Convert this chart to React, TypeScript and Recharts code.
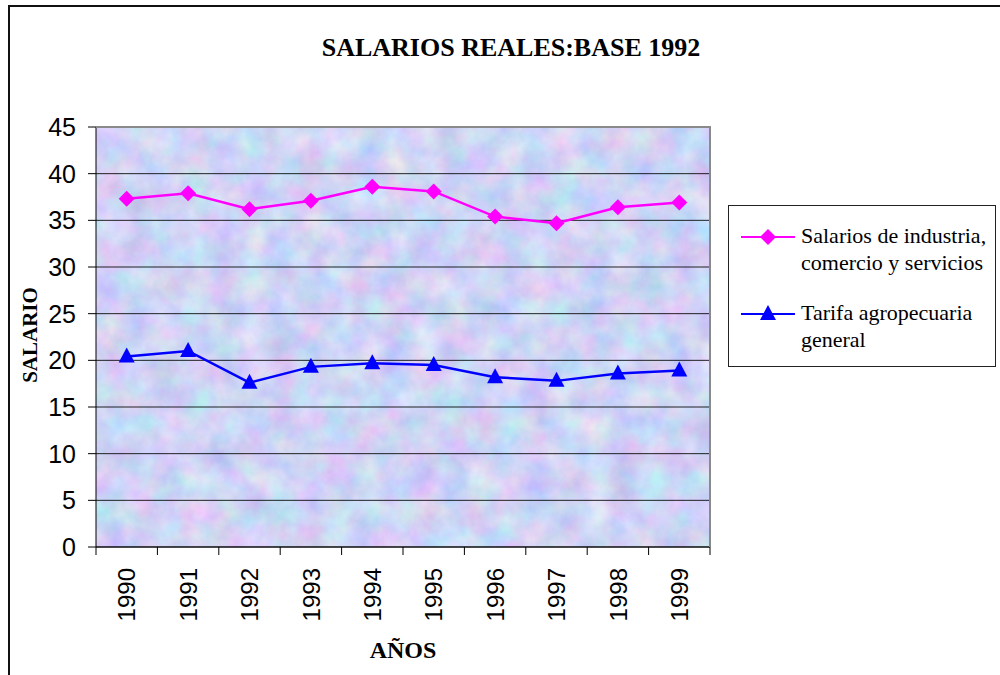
import React from 'react';
import { LineChart, Line, XAxis, YAxis, CartesianGrid } from 'recharts';

const years = ['1990', '1991', '1992', '1993', '1994', '1995', '1996', '1997', '1998', '1999'];
const salariosIndustria = [37.3, 37.9, 36.2, 37.1, 38.6, 38.1, 35.4, 34.7, 36.4, 36.9];
const tarifaAgro = [20.4, 21.0, 17.6, 19.3, 19.7, 19.5, 18.2, 17.8, 18.6, 18.9];
const yTicks = [0, 5, 10, 15, 20, 25, 30, 35, 40, 45];

const series = [
    { key: 'industria', name: ['Salarios de industria,', 'comercio y servicios'], color: '#ff00ff', shape: 'diamond' },
    { key: 'agro', name: ['Tarifa agropecuaria', 'general'], color: '#0000ff', shape: 'triangle' },
];

const data = years.map((year, i) => ({
    year,
    industria: salariosIndustria[i],
    agro: tarifaAgro[i],
}));

const serif = '"Liberation Serif", "DejaVu Serif", serif';
const sans = '"Liberation Sans", Arial, sans-serif';

const Marker = ({ cx, cy, shape, color }: any) => {
    if (cx == null || cy == null) return null;
    if (shape === 'diamond') {
        return <polygon points={`${cx},${cy - 8} ${cx + 8},${cy} ${cx},${cy + 8} ${cx - 8},${cy}`} fill={color} />;
    }
    return <polygon points={`${cx},${cy - 9} ${cx + 8},${cy + 6} ${cx - 8},${cy + 6}`} fill={color} />;
};

// year label rotated, plus Excel-style tick marks on the band edges
const YearTick = ({ x, y, payload, width, visibleTicksCount, index }: any) => {
    const half = payload.offset || width / visibleTicksCount / 2;
    const ty = y + 21;
    return (
        <g>
            <line x1={x - half} y1={y} x2={x - half} y2={y + 8} stroke="#000" />
            {index === visibleTicksCount - 1 && <line x1={x + half} y1={y} x2={x + half} y2={y + 8} stroke="#000" />}
            <text
                x={x}
                y={ty}
                transform={`rotate(-90, ${x}, ${ty})`}
                textAnchor="end"
                dy="0.36em"
                fontSize={24}
                fontFamily={sans}
                fill="#000"
            >
                {payload.value}
            </text>
        </g>
    );
};

export default function App() {
    return (
        <div style={{ position: 'absolute', left: 0, top: 0, width: 1000, height: 675, overflow: 'hidden', background: '#fff' }}>
            {/* outer frame, runs past the right and bottom edges */}
            <div style={{ position: 'absolute', left: 8, top: 5, width: 1100, height: 800, border: '2px solid #111', boxSizing: 'border-box' }} />

            <div style={{ position: 'absolute', left: 0, top: 33, width: 1022, textAlign: 'center', fontFamily: serif, fontWeight: 'bold', fontSize: 26 }}>
                SALARIOS REALES:BASE 1992
            </div>

            <LineChart
                width={1000}
                height={675}
                data={data}
                margin={{ top: 127, right: 290, left: 36, bottom: 68 }}
                style={{ position: 'absolute', left: 0, top: 0 }}
            >
                <defs>
                    <filter id="tex" x="0" y="0" width="100%" height="100%" colorInterpolationFilters="sRGB">
                        <feTurbulence type="fractalNoise" baseFrequency="0.035" numOctaves={4} seed={7} />
                        <feColorMatrix
                            type="matrix"
                            values="0.32 0 0 0 0.65  0 0.26 0 0 0.70  0 0 0.12 0 0.90  0 0 0 0 1"
                        />
                    </filter>
                    <pattern id="bg" patternUnits="userSpaceOnUse" x={96} y={127} width={614} height={420}>
                        <rect width={614} height={420} fill="#ccd9f5" filter="url(#tex)" />
                    </pattern>
                </defs>
                <CartesianGrid vertical={false} stroke="#000" strokeOpacity={0.85} fill="url(#bg)" fillOpacity={1} />
                <XAxis
                    dataKey="year"
                    scale="band"
                    height={60}
                    tickSize={0}
                    tickMargin={0}
                    tickLine={false}
                    axisLine={{ stroke: '#000' }}
                    interval={0}
                    tick={<YearTick />}
                />
                <YAxis
                    width={60}
                    domain={[0, 45]}
                    ticks={yTicks}
                    interval={0}
                    tickSize={8}
                    tickMargin={12}
                    tickLine={{ stroke: '#000' }}
                    axisLine={{ stroke: '#000' }}
                    tick={{ fontSize: 25, fontFamily: sans, fill: '#000' }}
                />
                {series.map((s) => (
                    <Line
                        key={s.key}
                        dataKey={s.key}
                        stroke={s.color}
                        strokeWidth={2.5}
                        isAnimationActive={false}
                        dot={(p: any) => <Marker key={`${s.key}-${p.index}`} cx={p.cx} cy={p.cy} shape={s.shape} color={s.color} />}
                        activeDot={false}
                    />
                ))}
            </LineChart>

            {/* grey frame on the top and right of the plot */}
            <div style={{ position: 'absolute', left: 96, top: 126, width: 615, height: 2, background: '#8a8a8a' }} />
            <div style={{ position: 'absolute', left: 709, top: 126, width: 2, height: 421, background: '#8a8a8a' }} />

            <div
                style={{
                    position: 'absolute',
                    left: 16,
                    top: 335,
                    transform: 'translate(0, -50%) rotate(-90deg)',
                    transformOrigin: 'center',
                    fontFamily: serif,
                    fontWeight: 'bold',
                    fontSize: 21,
                    width: 28,
                    display: 'flex',
                    justifyContent: 'center',
                    whiteSpace: 'nowrap',
                }}
            >
                SALARIO
            </div>

            <div style={{ position: 'absolute', left: 300, top: 637, width: 206, textAlign: 'center', fontFamily: serif, fontWeight: 'bold', fontSize: 24 }}>
                AÑOS
            </div>

            {/* legend */}
            <div
                style={{
                    position: 'absolute',
                    left: 728,
                    top: 205,
                    width: 268,
                    height: 162,
                    border: '1.5px solid #222',
                    boxSizing: 'border-box',
                    background: '#fff',
                    fontFamily: serif,
                    fontSize: 22,
                    color: '#000',
                }}
            >
                {series.map((s, i) => (
                    <div key={s.key} style={{ position: 'absolute', left: 10, top: 16 + i * 77, display: 'flex', alignItems: 'flex-start' }}>
                        <svg width={58} height={28} style={{ flex: 'none' }}>
                            <line x1={2} y1={15} x2={56} y2={15} stroke={s.color} strokeWidth={2} />
                            <Marker cx={29} cy={15} shape={s.shape} color={s.color} />
                        </svg>
                        <div style={{ marginLeft: 4, lineHeight: '27px' }}>
                            {s.name.map((n) => (
                                <div key={n} style={{ whiteSpace: 'nowrap' }}>{n}</div>
                            ))}
                        </div>
                    </div>
                ))}
            </div>
        </div>
    );
}
